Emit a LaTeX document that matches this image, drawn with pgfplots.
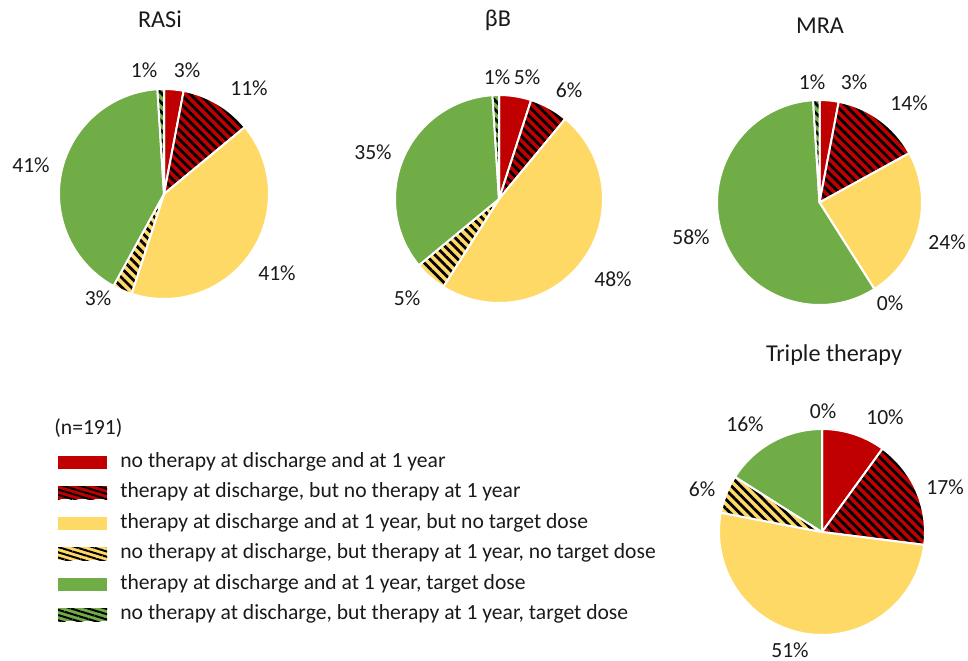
\documentclass[border=0pt]{standalone}
\usepackage{fontspec}
\setmainfont{Carlito}
\usepackage{pgfplots}
\usepackage{pgfplotstable}
\pgfplotsset{compat=1.18}
\usetikzlibrary{patterns.meta}

\definecolor{cRed}{HTML}{C00000}
\definecolor{cYel}{HTML}{FFD966}
\definecolor{cGrn}{HTML}{70AD47}
\definecolor{cTxt}{HTML}{1A1A1A}

% shares in percent, order: red, red hatched, yellow, yellow hatched, green, green hatched
\pgfplotstableread{
cat RASi BB MRA TT
1   3    5  3   10
2   11   6  14  17
3   41   48 24  51
4   3    5  0   6
5   41   35 58  16
6   1    1  1   0
}\piedata

\tikzset{
  hatch/.style={pattern={Lines[angle=-45,distance=3.3pt,line width=1.4pt]},pattern color=black},
  lhatch/.style={pattern={Lines[angle=-17,distance=2.5pt,line width=1pt]},pattern color=black},
  w1/.style={fill=cRed},
  w2/.style={preaction={fill=cRed},hatch},
  w3/.style={fill=cYel},
  w4/.style={preaction={fill=cYel},hatch},
  w5/.style={fill=cGrn},
  w6/.style={preaction={fill=cGrn},hatch},
}

\newcommand\labfont{\fontsize{10.8}{13}\selectfont}
\newcommand\titfont{\fontsize{12.1}{14}\selectfont}

% #1 column, #2 cx, #3 cy (axis units), #4 radius (axis units)
\newcommand\drawpie[4]{%
  \pgfplotsextra{%
    \gdef\pieS{90}%
    \pgfmathsetlengthmacro\pieR{#4*0.5pt}%
    \foreach \i in {0,...,5}{%
      \pgfplotstablegetelem{\i}{#1}\of\piedata
      \let\v\pgfplotsretval
      \pgfmathsetmacro\pieE{\pieS-3.6*\v}%
      \pgfmathtruncatemacro\k{\i+1}%
      \ifdim\v pt>0pt
        \path[w\k,draw=white,line width=1pt,line join=round]
          (axis cs:#2,#3) -- ++(\pieS:\pieR) arc[start angle=\pieS,end angle=\pieE,radius=\pieR] -- cycle;
      \fi
      \global\let\pieS\pieE
    }%
  }%
}
\newcommand\lab[3]{\node[font=\labfont,text=cTxt,inner sep=0pt] at (axis cs:#1,#2) {#3};}
\newcommand\tit[3]{\node[font=\titfont,text=cTxt,inner sep=0pt] at (axis cs:#1,#2) {#3};}

\begin{document}
\begin{tikzpicture}
\begin{axis}[hide axis, scale only axis, width=484pt, height=330pt,
  xmin=0, xmax=968, ymin=0, ymax=660, clip=false]

\drawpie{RASi}{164}{466}{105}
\drawpie{BB}{499}{461}{104}
\drawpie{MRA}{819.5}{457.5}{102.5}
\drawpie{TT}{822}{128}{103}

% titles
\tit{160}{641}{RASi}
\tit{498}{640}{βB}
\tit{820}{634}{MRA}
\tit{834}{305}{Triple therapy}

% RASi labels
\lab{144}{590}{1\%}
\lab{187}{590}{3\%}
\lab{249}{572}{11\%}
\lab{277}{387}{41\%}
\lab{98}{362}{3\%}
\lab{31}{495}{41\%}
% betaB labels
\lab{497}{583}{1\%}
\lab{527}{583}{5\%}
\lab{569}{570}{6\%}
\lab{613}{381}{48\%}
\lab{407}{362}{5\%}
\lab{373}{508}{35\%}
% MRA labels
\lab{812}{578}{1\%}
\lab{854}{578}{3\%}
\lab{909}{557}{14\%}
\lab{947}{418}{24\%}
\lab{890}{357}{0\%}
\lab{691}{423}{58\%}
% Triple therapy labels
\lab{823}{249}{0\%}
\lab{885}{243}{10\%}
\lab{945}{173}{17\%}
\lab{702}{171}{6\%}
\lab{745}{236}{16\%}
\lab{790}{10}{51\%}

% legend
\node[font=\labfont,text=cTxt,inner sep=0pt,anchor=west] at (axis cs:54,232) {(n=191)};
\path[fill=cRed] (axis cs:58,191.5) rectangle (axis cs:107,204.5);
\path[preaction={fill=cRed},lhatch] (axis cs:58,161) rectangle (axis cs:107,174);
\path[fill=cYel] (axis cs:58,130.5) rectangle (axis cs:107,143.5);
\path[preaction={fill=cYel},lhatch] (axis cs:58,100) rectangle (axis cs:107,113);
\path[fill=cGrn] (axis cs:58,69.5) rectangle (axis cs:107,82.5);
\path[preaction={fill=cGrn},lhatch] (axis cs:58,39) rectangle (axis cs:107,52);
\node[font=\labfont,text=cTxt,inner sep=0pt,anchor=base west] at (axis cs:120,193) {no therapy at discharge and at 1 year};
\node[font=\labfont,text=cTxt,inner sep=0pt,anchor=base west] at (axis cs:120,162.5) {therapy at discharge, but no therapy at 1 year};
\node[font=\labfont,text=cTxt,inner sep=0pt,anchor=base west] at (axis cs:120,132) {therapy at discharge and at 1 year, but no target dose};
\node[font=\labfont,text=cTxt,inner sep=0pt,anchor=base west] at (axis cs:120,101.5) {no therapy at discharge, but therapy at 1 year, no target dose};
\node[font=\labfont,text=cTxt,inner sep=0pt,anchor=base west] at (axis cs:120,71) {therapy at discharge and at 1 year, target dose};
\node[font=\labfont,text=cTxt,inner sep=0pt,anchor=base west] at (axis cs:120,40.5) {no therapy at discharge, but therapy at 1 year, target dose};
\end{axis}
\pgfresetboundingbox
\path[use as bounding box] (0,0) rectangle (484pt,330pt);
\end{tikzpicture}
\end{document}
